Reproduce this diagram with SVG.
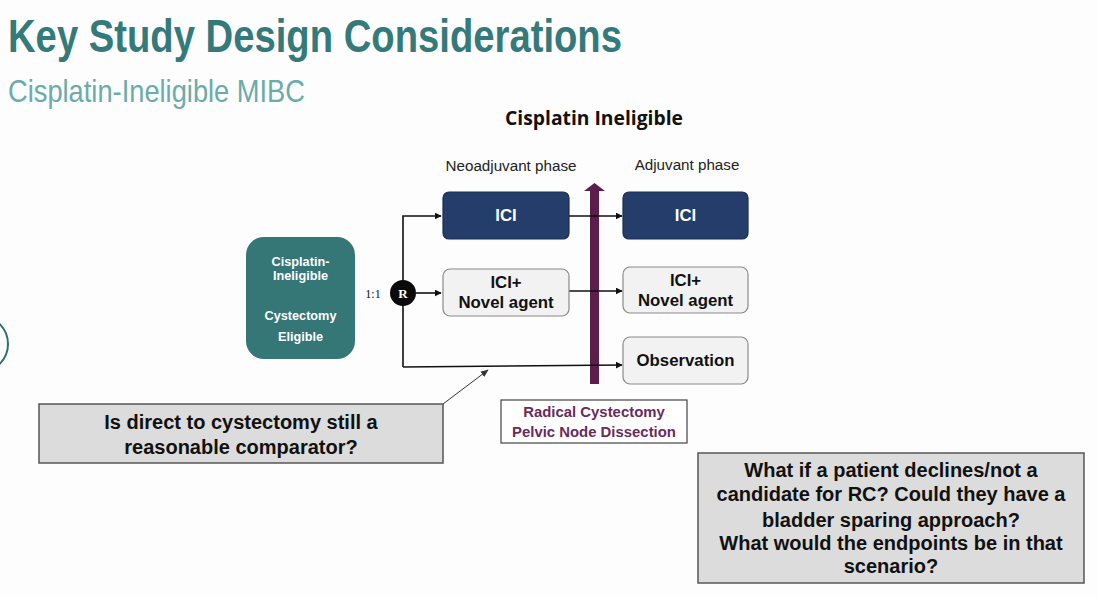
<svg xmlns="http://www.w3.org/2000/svg" width="1098" height="597" viewBox="0 0 1098 597">
<defs>
<style>
.sans{font-family:"Liberation Sans",Arial,sans-serif}
.b{font-weight:bold}
.wt{fill:#ffffff}
.bk{fill:#111111}
.ln{stroke:#111;stroke-width:1.6;fill:none}
.lbox{fill:#f2f2f2;stroke:#8a8a8a;stroke-width:1.2}
.dbox{fill:#243d6b;stroke:#1a2d52;stroke-width:1.2}
.qbox{fill:#dcdcdc;stroke:#555;stroke-width:1.5}
</style>
<marker id="ah" viewBox="0 0 10 10" refX="9" refY="5" markerWidth="7" markerHeight="7" markerUnits="userSpaceOnUse" orient="auto">
<path d="M0,0 L10,5 L0,10 z" fill="#111"/>
</marker>
<marker id="ah2" viewBox="0 0 10 10" refX="9" refY="5" markerWidth="8" markerHeight="8" markerUnits="userSpaceOnUse" orient="auto">
<path d="M0,1 L10,5 L0,9 z" fill="#333"/>
</marker>
</defs>
<rect width="1098" height="597" fill="#fdfdfd"/>
<circle cx="-20" cy="344" r="28" fill="none" stroke="#2f6f70" stroke-width="2"/>
<text x="8" y="52" class="sans b" font-size="46" fill="#347a7b" textLength="614" lengthAdjust="spacingAndGlyphs">Key Study Design Considerations</text>
<text x="8" y="102" class="sans" font-size="32" fill="#6aabab" textLength="297" lengthAdjust="spacingAndGlyphs">Cisplatin-Ineligible MIBC</text>
<text x="594" y="125" font-family="'Open Sans','Liberation Sans',sans-serif" font-weight="bold" font-size="19.3" fill="#111" text-anchor="middle">Cisplatin Ineligible</text>
<text x="511" y="171" class="sans" font-size="15.2" fill="#222" text-anchor="middle">Neoadjuvant phase</text>
<text x="687" y="170" class="sans" font-size="15.2" fill="#222" text-anchor="middle">Adjuvant phase</text>

<g id="purple-arrow">
<path d="M590,384 L590,191 L584,191 L594.5,183 L605,191 L599,191 L599,384 z" fill="#5c1f4b"/>
</g>

<g id="node-population">
<rect x="246" y="237" width="109" height="122" rx="18" fill="#357677"/>
<text class="sans b wt" font-size="12.7" text-anchor="middle"><tspan x="300.5" y="266">Cisplatin-</tspan><tspan x="300.5" y="280">Ineligible</tspan><tspan x="300.5" y="320">Cystectomy</tspan><tspan x="300.5" y="341">Eligible</tspan></text>
</g>
<text x="373" y="298" font-family="'Liberation Serif',serif" font-size="12" fill="#111" text-anchor="middle">1:1</text>

<g id="connectors">
<path class="ln" d="M403,367 L403,216 L441,216" marker-end="url(#ah)"/>
<path class="ln" d="M416,293 L441,293" marker-end="url(#ah)"/>
<path class="ln" d="M403,367 L622,365" marker-end="url(#ah)"/>
<path class="ln" d="M569,216 L622,216" marker-end="url(#ah)"/>
<path class="ln" d="M569,291 L622,291" marker-end="url(#ah)"/>
<path d="M443,404 L488,370" stroke="#333" stroke-width="1" fill="none" marker-end="url(#ah2)"/>
</g>

<g id="node-R">
<circle cx="403" cy="293" r="13" fill="#0a0a0a"/>
<text x="403" y="298" font-family="'Liberation Serif',serif" font-weight="bold" font-size="13" fill="#fff" text-anchor="middle">R</text>
</g>

<g id="node-neo-ici">
<rect class="dbox" x="443" y="192" width="126" height="47" rx="6"/>
<text x="506" y="221" class="sans b wt" font-size="16.8" text-anchor="middle">ICI</text>
</g>
<g id="node-neo-novel">
<rect class="lbox" x="443" y="269" width="126" height="47" rx="7"/>
<text class="sans b bk" font-size="16.8" text-anchor="middle"><tspan x="506" y="288">ICI+</tspan><tspan x="506" y="308">Novel agent</tspan></text>
</g>
<g id="node-adj-ici">
<rect class="dbox" x="623" y="192" width="125" height="47" rx="6"/>
<text x="685.5" y="221" class="sans b wt" font-size="16.8" text-anchor="middle">ICI</text>
</g>
<g id="node-adj-novel">
<rect class="lbox" x="623" y="267" width="125" height="46" rx="7"/>
<text class="sans b bk" font-size="16.8" text-anchor="middle"><tspan x="685.5" y="286">ICI+</tspan><tspan x="685.5" y="306">Novel agent</tspan></text>
</g>
<g id="node-observation">
<rect class="lbox" x="623" y="337" width="125" height="47" rx="7"/>
<text x="685.5" y="366" class="sans b bk" font-size="16.8" text-anchor="middle">Observation</text>
</g>

<g id="node-rc">
<rect x="501" y="400" width="186" height="43" fill="#ffffff" stroke="#444" stroke-width="1.2"/>
<text class="sans b" font-size="14.9" fill="#6a2a5c" text-anchor="middle"><tspan x="594" y="417">Radical Cystectomy</tspan><tspan x="594" y="437">Pelvic Node Dissection</tspan></text>
</g>

<g id="node-question1">
<rect class="qbox" x="39" y="404" width="404" height="59"/>
<text class="sans b bk" font-size="20" text-anchor="middle"><tspan x="241" y="429">Is direct to cystectomy still a</tspan><tspan x="241" y="454">reasonable comparator?</tspan></text>
</g>

<g id="node-question2">
<rect class="qbox" x="698" y="453" width="386" height="130"/>
<text class="sans b bk" font-size="20" text-anchor="middle"><tspan x="891" y="477">What if a patient declines/not a</tspan><tspan x="891" y="501">candidate for RC? Could they have a</tspan><tspan x="891" y="527">bladder sparing approach?</tspan><tspan x="891" y="550">What would the endpoints be in that</tspan><tspan x="891" y="573">scenario?</tspan></text>
</g>
</svg>
